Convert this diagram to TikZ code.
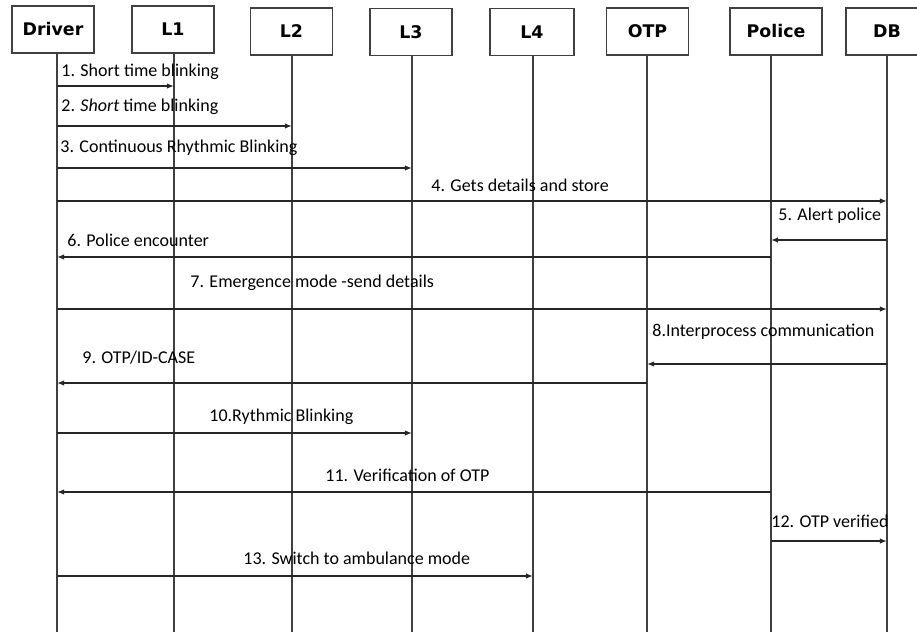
\documentclass[tikz,border=0pt]{standalone}
\usepackage{fontspec}
\setmainfont{Carlito}
\newfontfamily\hdfont{DejaVu Sans}
\usetikzlibrary{arrows.meta}

\begin{document}
\begin{tikzpicture}[
    x = 0.5pt, y = -0.5pt,
    > = {Latex[length=3.6pt,width=2.8pt]},
    actor/.style = {draw=black!75, line width=0.8pt, minimum width=41pt, minimum height=23.5pt,
                    inner sep=0pt, text height=6.4pt, text depth=0pt,
                    font=\hdfont\bfseries\fontsize{8.7}{10}\selectfont},
    life/.style = {draw=black!75, line width=0.7pt},
    msg/.style = {->, draw=black!85, line width=0.7pt},
    lbl/.style = {anchor=west, inner sep=0pt, font=\fontsize{9}{11}\selectfont}
]
    \useasboundingbox (0,0) rectangle (917,632);

    % participants
    \node[actor] (driver) at (53,29.5) {Driver};
    \node[actor] (l1) at (173,29.5) {L1};
    \node[actor] (l2) at (291.5,31.5) {L2};
    \node[actor] (l3) at (411,32) {L3};
    \node[actor, minimum width=42pt] (l4) at (532,32) {L4};
    \node[actor] (otp) at (647.5,31.5) {OTP};
    \node[actor, minimum width=46pt] (police) at (776,31.5) {Police};
    \node[actor] (db) at (887,31.5) {DB};

    % lifelines
    \foreach \n/\x in {driver/57, l1/174, l2/292, l3/412, l4/533, otp/647, police/771, db/887} {
        \coordinate (\n-end) at (\x,632);
        \draw[life] (\n.south -| \n-end) -- (\n-end);
    }

    % messages
    \foreach \a/\b/\y in {driver/l1/86, driver/l2/126, driver/l3/168, driver/db/201,
                          db/police/240, police/driver/257, driver/db/309, db/otp/364,
                          otp/driver/383, driver/l3/433, police/driver/492, police/db/541,
                          driver/l4/576}
        \draw[msg] (\a-end |- 0,\y) -- (\b-end |- 0,\y);

    \node[lbl] (t1) at (61,72) {1. Short time blinking};
    \node[lbl] (t2) at (61,107) {2. \textit{Short} time blinking};
    \node[lbl] (t3) at (60,148) {3. Continuous Rhythmic Blinking};
    \node[lbl] (t4) at (431,185) {4. Gets details and store};
    \node[lbl] (t5) at (778,216) {5. Alert police};
    \node[lbl] (t6) at (67,240) {6. Police encounter};
    \node[lbl] (t7) at (190,283) {7. Emergence mode -send details};
    \node[lbl] (t8) at (652,332) {8.Interprocess communication};
    \node[lbl] (t9) at (82,358) {9. OTP/ID-CASE};
    \node[lbl] (t10) at (209,417) {10.Rythmic Blinking};
    \node[lbl] (t11) at (325,475) {11. Verification of OTP};
    \node[lbl] (t12) at (771,521) {12. OTP verified};
    \node[lbl] (t13) at (243,558) {13. Switch to ambulance mode};
\end{tikzpicture}
\end{document}
